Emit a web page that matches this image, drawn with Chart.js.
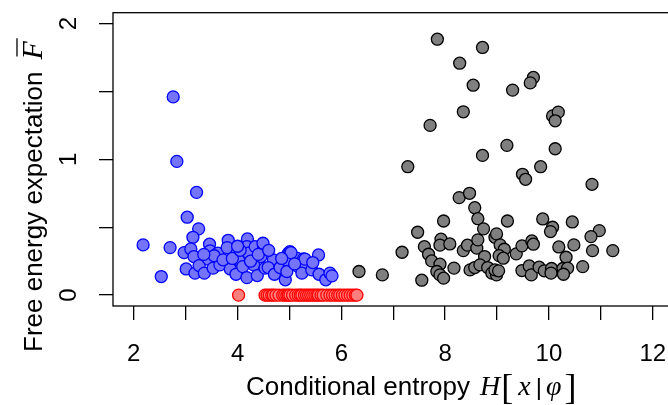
<!DOCTYPE html>
<html>
<head>
<meta charset="utf-8">
<script src="https://cdn.jsdelivr.net/npm/chart.js@4/dist/chart.umd.min.js"></script>
<style>
  html, body { margin: 0; padding: 0; overflow: hidden; background: #fff; }
</style>
</head>
<body>
<canvas id="plot" width="690" height="405"></canvas>
<script>
// values
const blueX = [2.76, 2.83, 3.21, 3.03, 3.25, 3.14, 2.18, 2.70, 2.53, 2.97, 3.10, 3.16, 3.01, 3.18, 3.26, 3.36,
  3.46, 3.47, 3.44, 3.62, 3.53, 3.66, 3.82, 3.80, 3.86, 3.99, 4.02, 3.97, 4.10, 4.18, 4.19, 4.18, 4.21, 4.31,
  4.38, 4.34, 4.45, 4.50, 4.53, 4.49, 4.69, 4.59, 4.71, 4.82, 4.92, 4.98, 5.01, 4.98, 4.95, 5.14, 5.17, 5.27,
  5.30, 5.24, 5.43, 5.56, 5.57, 5.70, 5.78, 5.82, 5.03, 5.30, 3.55, 3.72, 3.90, 4.05, 4.25, 4.40, 4.60, 4.85,
  5.10, 5.45, 3.35, 4.00];
const blueY = [1.46, 0.985, 0.757, 0.574, 0.488, 0.426, 0.37, 0.35, 0.137, 0.313, 0.34, 0.284, 0.193, 0.162, 0.218, 0.162,
  0.375, 0.326, 0.265, 0.309, 0.199, 0.223, 0.404, 0.35, 0.193, 0.309, 0.26, 0.154, 0.21, 0.129, 0.414, 0.357, 0.309, 0.223,
  0.144, 0.357, 0.284, 0.357, 0.199, 0.382, 0.26, 0.203, 0.154, 0.203, 0.113, 0.309, 0.32, 0.243, 0.174, 0.272, 0.21, 0.267,
  0.199, 0.162, 0.186, 0.296, 0.154, 0.113, 0.162, 0.142, 0.313, 0.265, 0.29, 0.26, 0.27, 0.33, 0.25, 0.30, 0.33, 0.27,
  0.23, 0.24, 0.30, 0.36];

const redX = [4.02, 4.53, 4.57, 4.61, 4.66, 4.69, 4.74, 4.80, 4.87, 4.91, 4.95, 4.98, 5.01, 5.06, 5.12, 5.17, 5.21,
  5.24, 5.29, 5.33, 5.37, 5.41, 5.45, 5.49, 5.53, 5.56, 5.61, 5.65, 5.72, 5.78, 5.83, 5.88, 5.93, 5.97, 6.02,
  6.07, 6.12, 6.17, 6.22, 6.27, 6.30];
const redY = redX.map(() => 0);

const greyX = [7.85, 8.72, 8.28, 8.54, 9.30, 9.70, 9.64, 8.35, 7.71, 10.07, 10.18, 10.12, 9.19, 8.72, 10.12, 7.28,
  9.84, 9.49, 9.55, 10.83, 8.27, 8.47, 8.57, 8.63, 8.74, 7.97, 9.20, 9.88, 10.07, 10.03, 10.45, 10.97, 10.81,
  7.47, 7.92, 7.90, 8.09, 7.60, 7.17, 6.79, 7.55, 7.68, 7.74, 7.90, 7.84, 7.90, 7.97, 8.17, 8.35, 8.43, 8.61,
  8.63, 8.76, 8.48, 8.57, 8.67, 8.82, 8.96, 8.99, 9.06, 9.14, 9.04, 9.12, 8.90, 8.99, 8.96, 9.03, 9.37, 9.48,
  9.67, 9.70, 9.48, 9.62, 9.66, 9.81, 9.91, 10.05, 10.04, 10.19, 10.33, 10.48, 10.27, 10.36, 10.28, 10.65,
  10.84, 11.23, 6.34];
const greyY = [1.885, 1.824, 1.708, 1.546, 1.51, 1.603, 1.563, 1.35, 1.25, 1.32, 1.348, 1.284, 1.103, 1.029, 1.078, 0.946,
  0.946, 0.89, 0.853, 0.816, 0.718, 0.75, 0.644, 0.563, 0.488, 0.546, 0.546, 0.561, 0.50, 0.468, 0.539, 0.475, 0.431,
  0.463, 0.412, 0.368, 0.377, 0.357, 0.316, 0.149, 0.11, 0.301, 0.252, 0.228, 0.174, 0.149, 0.125, 0.199, 0.328, 0.368, 0.346,
  0.407, 0.284, 0.186, 0.203, 0.223, 0.203, 0.426, 0.451, 0.37, 0.338, 0.291, 0.272, 0.162, 0.149, 0.186, 0.179, 0.304, 0.363,
  0.399, 0.375, 0.181, 0.215, 0.149, 0.206, 0.179, 0.196, 0.162, 0.355, 0.279, 0.37, 0.196, 0.199, 0.154, 0.21,
  0.328, 0.328, 0.174];

const xTicks = [2, 3, 4, 5, 6, 7, 8, 9, 10, 11, 12];
const xTickLabels = ['2', '', '4', '', '6', '', '8', '', '10', '', '12'];
const yTicks = [0, 0.5, 1, 1.5, 2];
const yTickLabels = ['0', '', '1', '', '2'];

const pts = (xs, ys) => xs.map((x, i) => ({ x: x, y: ys[i] }));

const tickFont = { family: 'Liberation Sans, Arial, sans-serif', size: 24 };

// frame round the plot area plus the axis titles (mixed fonts)
const framePlugin = {
  id: 'frame',
  afterDraw(chart) {
    const ctx = chart.ctx;
    const a = chart.chartArea;
    ctx.save();
    ctx.strokeStyle = '#000';
    ctx.lineWidth = 1.3;
    ctx.strokeRect(a.left, a.top, a.right - a.left, a.bottom - a.top);

    ctx.fillStyle = '#000';
    ctx.textBaseline = 'alphabetic';
    ctx.textAlign = 'left';

    // x title
    const sans = '26px "Liberation Sans", Arial, sans-serif';
    const serifIt = 'italic 28px "Liberation Serif", "Times New Roman", serif';
    const serif = '36px "Liberation Serif", "Times New Roman", serif';
    let x = 246, y = 395;
    ctx.font = sans;
    ctx.fillText('Conditional entropy', x, y);
    x += ctx.measureText('Conditional entropy').width + 10;
    const parts = [[serifIt, 'H', 1], [serif, '[', 5], [serifIt, 'x', 5], ['24px "Liberation Sans", Arial', '|', 4], [serifIt, '\u03c6', 3], [serif, ']', 0]];
    parts.forEach(p => {
      ctx.font = p[0];
      ctx.fillText(p[1], x, y + (p[1] === '[' || p[1] === ']' ? 4 : 0));
      x += ctx.measureText(p[1]).width + p[2];
    });

    // y title
    ctx.translate(42, 352);
    ctx.rotate(-Math.PI / 2);
    ctx.font = sans;
    ctx.fillText('Free energy expectation', 0, 0);
    let t = ctx.measureText('Free energy expectation').width + 12;
    ctx.font = 'italic 30px "Liberation Serif", "Times New Roman", serif';
    ctx.fillText('F', t, 0);
    const fw = ctx.measureText('F').width;
    ctx.lineWidth = 1.3;
    ctx.beginPath();
    ctx.moveTo(t + 3, -25);
    ctx.lineTo(t + fw + 3, -25);
    ctx.stroke();
    ctx.restore();
  }
};

new Chart(document.getElementById('plot'), {
  type: 'scatter',
  data: {
    datasets: [
      { data: pts(greyX, greyY), backgroundColor: '#7f7f7f', borderColor: '#000', borderWidth: 1.3, pointRadius: 6 },
      { data: pts(blueX, blueY), backgroundColor: '#7474ff', borderColor: '#0000ff', borderWidth: 1.3, pointRadius: 6 },
      { data: pts(redX, redY), backgroundColor: '#ff7f7f', borderColor: '#ff0000', borderWidth: 1.3, pointRadius: 6 }
    ]
  },
  options: {
    responsive: false,
    animation: false,
    layout: { padding: { top: 12.7, right: 16.5, left: 0, bottom: 0 } },
    plugins: { legend: { display: false }, tooltip: { enabled: false } },
    scales: {
      x: {
        type: 'linear',
        min: 1.6,
        max: 12.4,
        afterBuildTicks: s => { s.ticks = xTicks.map(v => ({ value: v })); },
        afterFit: s => { s.height = 99; s.paddingLeft = 0; s.paddingRight = 0; },
        grid: { drawOnChartArea: false, drawTicks: true, tickLength: 14, color: '#000', lineWidth: 1.3 },
        border: { display: false },
        ticks: {
          color: '#000', font: tickFont, padding: 20, autoSkip: false, maxRotation: 0,
          callback: v => xTickLabels[xTicks.indexOf(v)]
        }
      },
      y: {
        type: 'linear',
        min: -0.08,
        max: 2.08,
        afterBuildTicks: s => { s.ticks = yTicks.map(v => ({ value: v })); },
        afterFit: s => { s.width = 113; s.paddingTop = 0; s.paddingBottom = 0; },
        grid: { drawOnChartArea: false, drawTicks: true, tickLength: 14, color: '#000', lineWidth: 1.3 },
        border: { display: false },
        ticks: {
          color: '#000', font: tickFont, padding: 23, autoSkip: false,
          minRotation: 90, maxRotation: 90, crossAlign: 'center',
          callback: v => yTickLabels[yTicks.indexOf(v)]
        }
      }
    }
  },
  plugins: [framePlugin]
});
</script>
</body>
</html>
